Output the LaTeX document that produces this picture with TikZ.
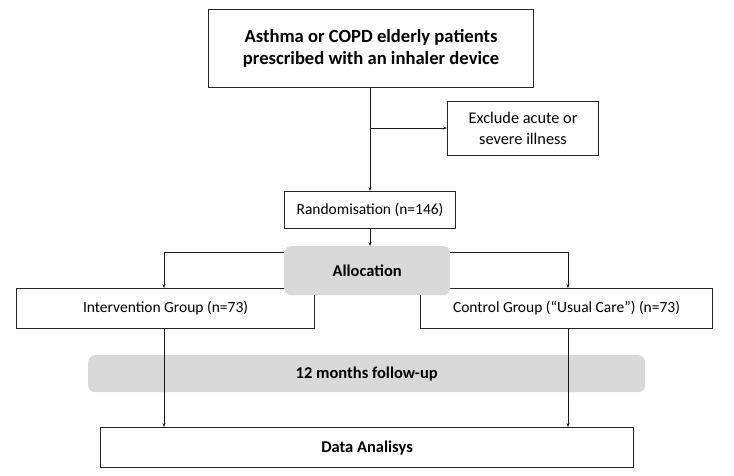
\documentclass[tikz,border=0pt]{standalone}
\usepackage{fontspec}
\setmainfont{Carlito}
\usetikzlibrary{arrows.meta}
\begin{document}
\begin{tikzpicture}[x=1pt,y=-1pt,
  box/.style={draw=black!85,line width=1.1pt,fill=white,inner sep=0pt,anchor=north west},
  gbox/.style={fill=black!15,rounded corners=7pt,inner sep=0pt,anchor=north west},
  conn/.style={draw=black!90,line width=0.9pt,-{Stealth[length=4pt,width=3pt]}},
  line/.style={draw=black!90,line width=0.9pt},
  txt/.style={font=\fontsize{15.5}{19}\selectfont},
  etxt/.style={font=\fontsize{16.3}{21.5}\selectfont},
  btxt/.style={font=\bfseries\fontsize{16.5}{20}\selectfont},
  ttxt/.style={font=\bfseries\fontsize{18.6}{22.5}\selectfont}]
\useasboundingbox (0,0) rectangle (734,475);
\node[box,minimum width=325pt,minimum height=78pt,ttxt,align=center] (top) at (208,9) {Asthma or COPD elderly patients\\prescribed with an inhaler device};
\node[box,minimum width=151pt,minimum height=54pt,etxt,align=center] (excl) at (447,101) {Exclude acute or\\severe illness};
\node[box,minimum width=171pt,minimum height=37pt,txt] (rand) at (284,191) {Randomisation (n=146)};
\node[box,minimum width=298pt,minimum height=40pt,txt] (int) at (16,288) {Intervention Group (n=73)};
\node[box,minimum width=292pt,minimum height=40pt,txt] (ctrl) at (420,288) {Control Group (“Usual Care”) (n=73)};
\node[gbox,minimum width=166pt,minimum height=49pt,btxt] (alloc) at (284,246) {Allocation};
\node[gbox,minimum width=557pt,minimum height=37pt,btxt] (fu) at (88,355) {12 months follow-up};
\node[box,minimum width=533pt,minimum height=40pt,btxt] (data) at (100,427) {Data Analisys};
\coordinate (j) at (370,128);
\draw[conn] (top.south -| j) -- (rand.north -| j);
\draw[conn] (j) -- (excl.west |- j);
\draw[conn] (rand.south -| j) -- (alloc.north -| j);
\coordinate (lc) at (164,252);
\coordinate (rc) at (568,252);
\draw[line] (alloc.west |- lc) -- (lc);
\draw[conn] (lc) -- (int.north -| lc);
\draw[line] (alloc.east |- rc) -- (rc);
\draw[conn] (rc) -- (ctrl.north -| rc);
\draw[conn] (int.south -| lc) -- (data.north -| lc);
\draw[conn] (ctrl.south -| rc) -- (data.north -| rc);
\end{tikzpicture}
\end{document}
